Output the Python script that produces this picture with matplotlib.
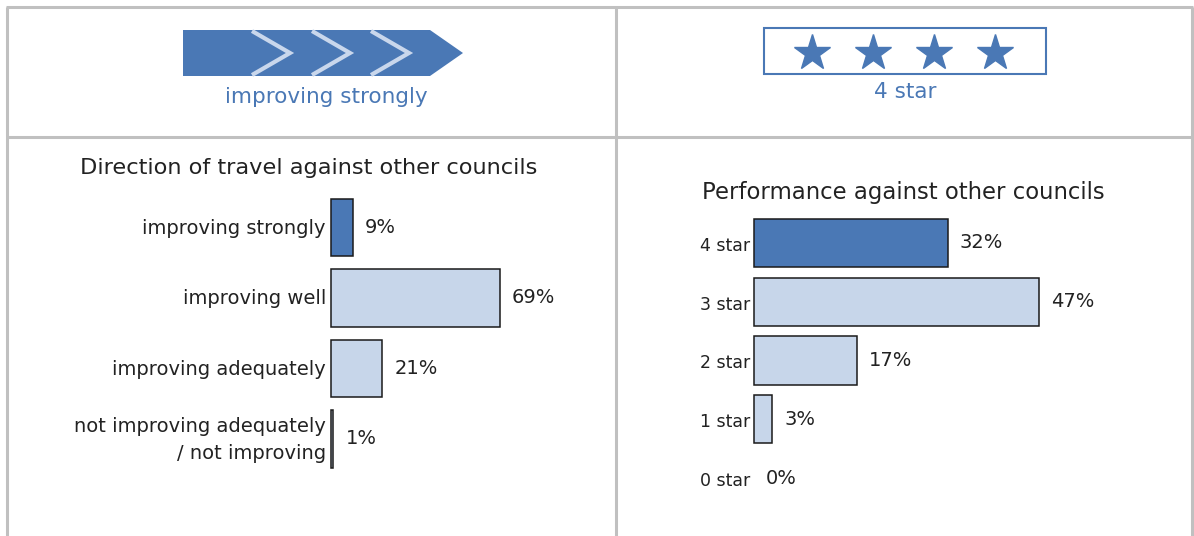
import matplotlib
matplotlib.use("Agg")
import matplotlib.pyplot as plt
from matplotlib.patches import Polygon, Rectangle

# data
travel_cats = ["improving strongly", "improving well", "improving adequately",
               "not improving adequately\n/ not improving"]
travel_pct = [9, 69, 21, 1]
travel_hi = 0  # highlighted category (this council)

perf_cats = ["4 star", "3 star", "2 star", "1 star", "0 star"]
perf_pct = [32, 47, 17, 3, 0]
perf_hi = 0

n_stars = 4
dot_label = "improving strongly"
star_label = "4 star"

W, H = 1194, 536
DARK = "#4a78b5"
LIGHT = "#c7d6ea"
GRID = "#c0c0c0"
TXT = "#222222"

fig = plt.figure(figsize=(W / 100, H / 100), dpi=100)


def px_axes(left, top, width, height):
    return fig.add_axes([left / W, (H - top - height) / H, width / W, height / H])


# background layer in pixel coords: table grid and badges
bg = px_axes(0, 0, W, H)
bg.set_xlim(0, W)
bg.set_ylim(H, 0)
bg.axis("off")
for xs, ys in [((7, 7), (7, H)), ((616, 616), (7, H)), ((1192, 1192), (7, H)),
               ((6, 1193), (7, 7)), ((7, 1192), (137, 137))]:
    bg.plot(xs, ys, color=GRID, lw=2.2, solid_capstyle="butt")

# direction of travel arrow
arrow = Polygon([(183, 30), (430, 30), (463, 53), (430, 76), (183, 76)],
                closed=True, facecolor=DARK, edgecolor="none")
bg.add_patch(arrow)
for x0 in (252, 312, 371):
    bg.plot([x0, x0 + 38, x0], [31, 53, 75], color="#c9d7ec", lw=3,
            solid_joinstyle="miter", solid_capstyle="butt")
bg.text(326, 97, dot_label, color=DARK, fontsize=15.5, ha="center", va="center")

# star badge
bg.add_patch(Rectangle((764, 28), 282, 46, facecolor="white", edgecolor=DARK, lw=1.5))
star_x = [812 + 61 * i for i in range(n_stars)]
bg.plot(star_x, [53] * n_stars, ls="none", marker="*", markersize=27, color=DARK)
bg.text(905, 92, star_label, color=DARK, fontsize=15.5, ha="center", va="center")

# chart titles
bg.text(309, 168, "Direction of travel against other councils", fontsize=16.2,
        color=TXT, ha="center", va="center")
bg.text(903, 192, "Performance against other councils", fontsize=16.4,
        color=TXT, ha="center", va="center")

# left bar chart
ax1 = px_axes(331, 192.25, 245, 282)
ax1.set_xlim(0, 100)
ax1.set_ylim(len(travel_cats) - 0.5, -0.5)
cols = [DARK if i == travel_hi else LIGHT for i in range(len(travel_pct))]
b1 = ax1.barh(range(len(travel_pct)), travel_pct, height=0.81, color=cols,
              edgecolor="#1a1a1a", linewidth=1.1)
for p in b1:
    p.set_clip_on(False)
for i, v in enumerate(travel_pct):
    ax1.annotate(f"{v}%", (v, i), xytext=(12, 0), textcoords="offset pixels",
                 va="center", ha="left", fontsize=14, color=TXT)
    ax1.annotate(travel_cats[i], (0, i), xytext=(-5, -1), textcoords="offset pixels",
                 va="center", ha="right", fontsize=14, color=TXT, linespacing=1.5)
ax1.axis("off")

# right bar chart
ax2 = px_axes(754, 213.6, 363.6, 293.8)
ax2.set_xlim(0, 60)
ax2.set_ylim(len(perf_cats) - 0.5, -0.5)
cols = [DARK if i == perf_hi else LIGHT for i in range(len(perf_pct))]
b2 = ax2.barh(range(len(perf_pct)), perf_pct, height=0.82, color=cols,
              edgecolor=["#1a1a1a" if v > 0 else "none" for v in perf_pct],
              linewidth=1.1)
for p in b2:
    p.set_clip_on(False)
for i, v in enumerate(perf_pct):
    ax2.annotate(f"{v}%", (v, i), xytext=(12, 0), textcoords="offset pixels",
                 va="center", ha="left", fontsize=14, color=TXT)
    ax2.annotate(perf_cats[i], (0, i), xytext=(-4, -3), textcoords="offset pixels",
                 va="center", ha="right", fontsize=12.5, color=TXT)
ax2.axis("off")

fig.savefig("out.png", dpi=100, facecolor="white")
